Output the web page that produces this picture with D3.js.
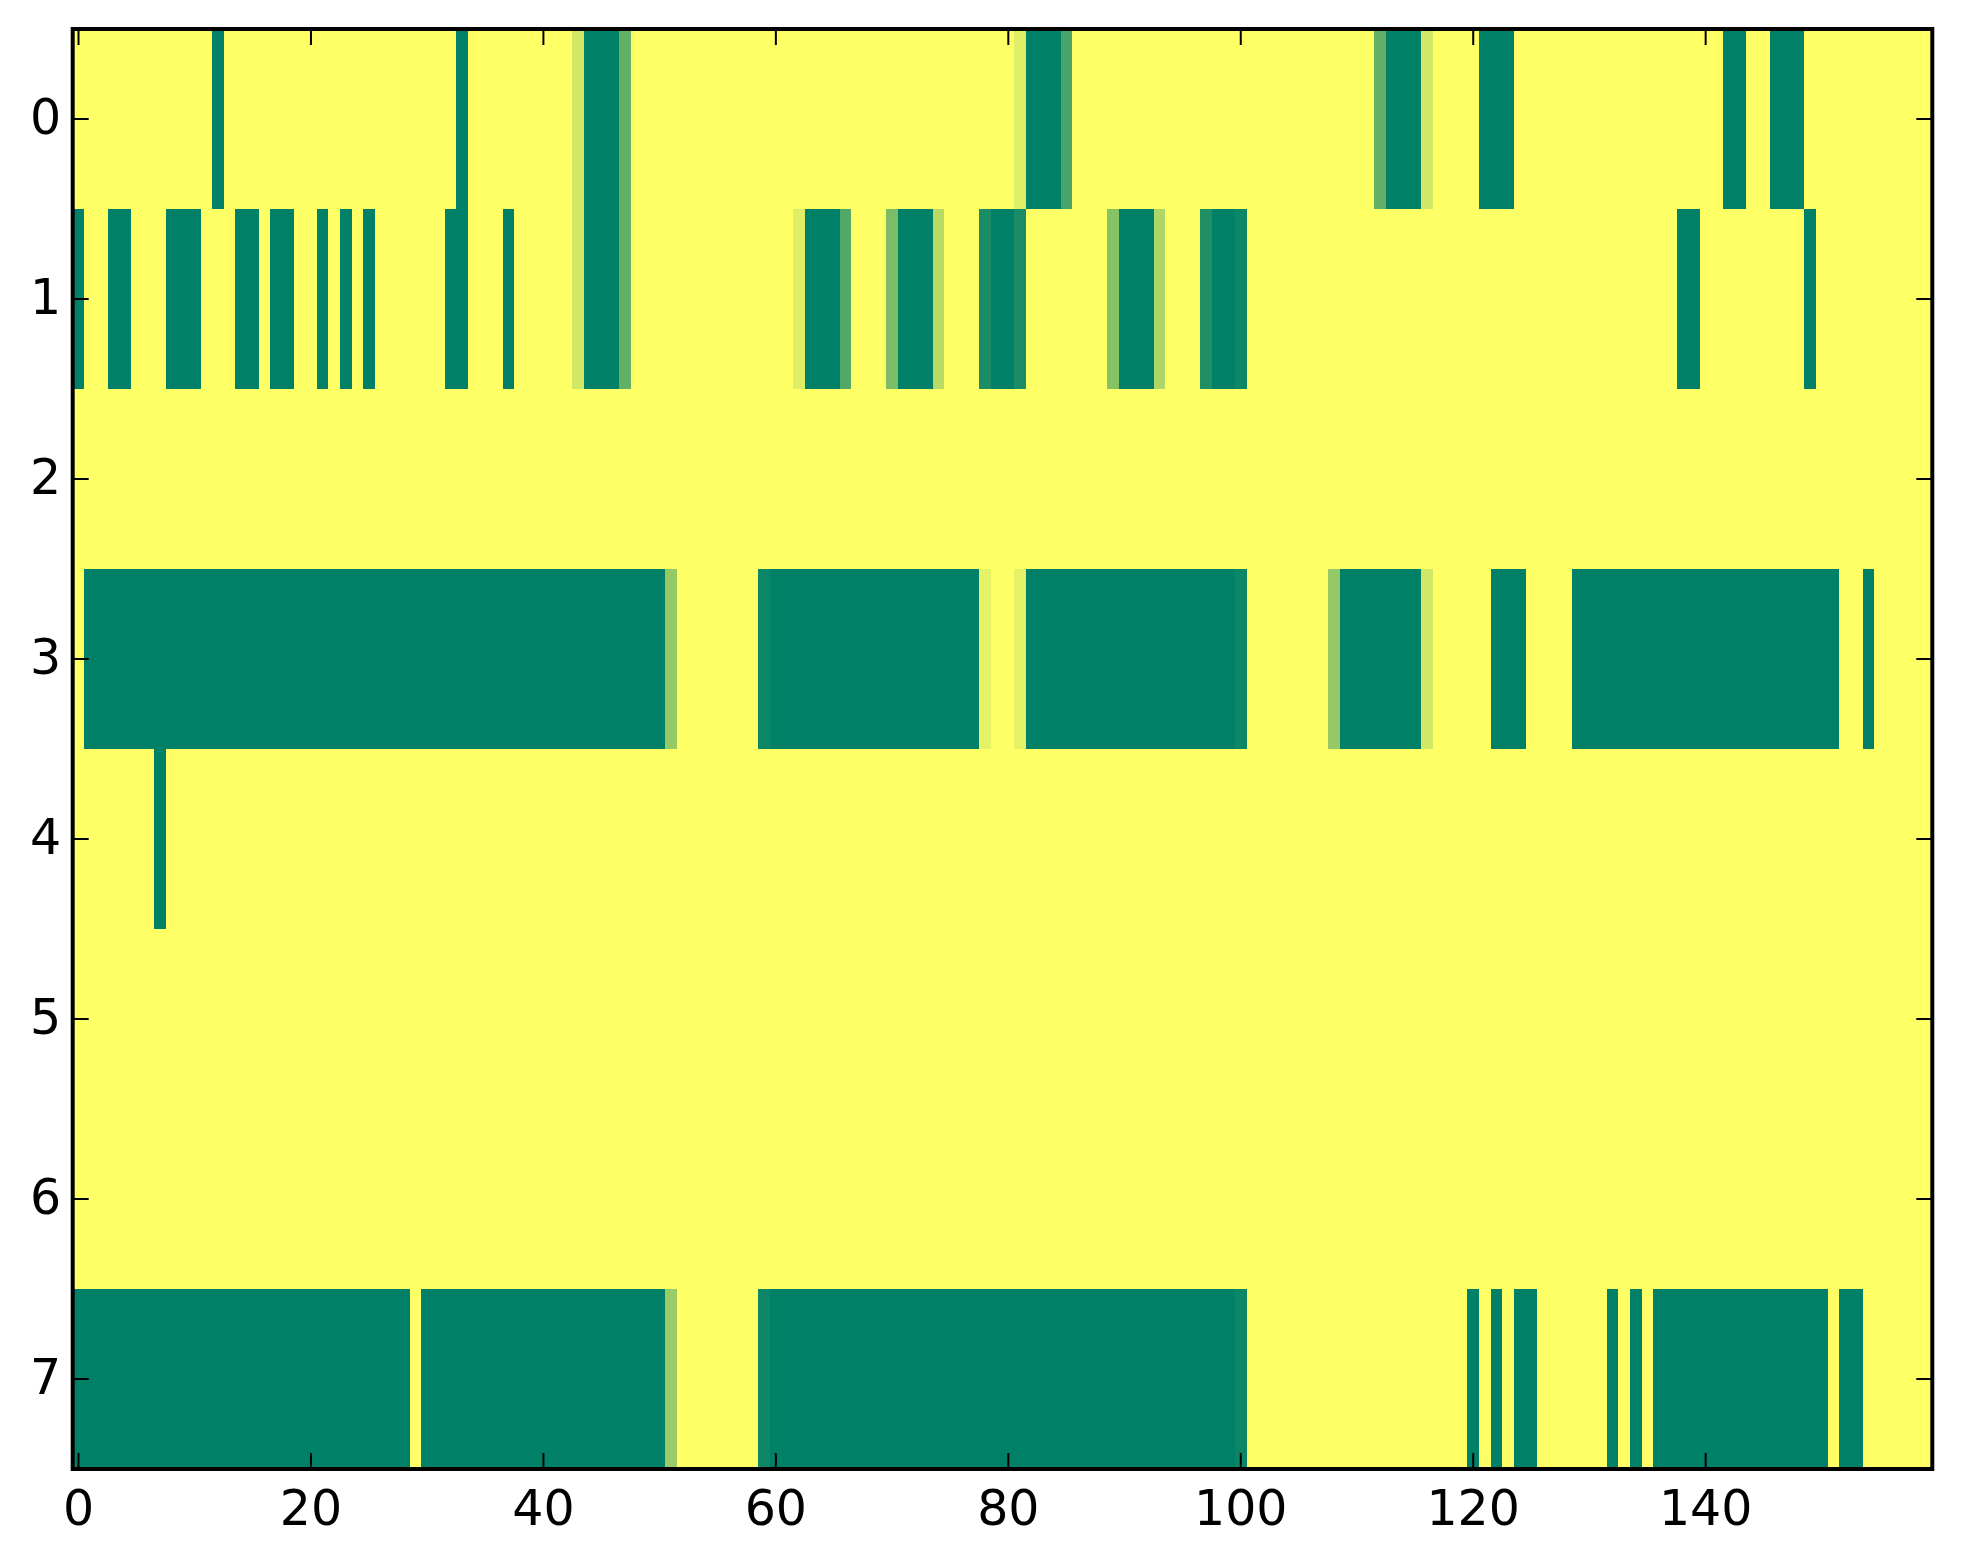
<!DOCTYPE html>
<html>
<head>
<meta charset="utf-8">
<script src="https://cdn.jsdelivr.net/npm/d3@7"></script>
<style>
  body { margin: 0; background: #fff; }
  svg text { font-family: "DejaVu Sans", sans-serif; font-size: 49px; fill: #000; }
</style>
</head>
<body>
<div id="chart"></div>
<script>
// grid size
const nCols = 160;
const rowLabels = [0, 1, 2, 3, 4, 5, 6, 7];
const xTicks = [0, 20, 40, 60, 80, 100, 120, 140];

// non-yellow cells per row as [firstCol, lastCol, value]; every other cell is 1 (yellow)
const row0 = [[12,12,0],[33,33,0],[43,43,0.82],[44,46,0],[47,47,0.38],[81,81,0.88],[82,84,0],
  [85,85,0.28],[112,112,0.38],[113,115,0],[116,116,0.82],[121,123,0],[142,143,0],[146,148,0]];
const row1 = [[0,0,0],[3,4,0],[8,10,0],[14,15,0],[17,18,0],[21,21,0],[23,23,0],[25,25,0],
  [32,33,0],[37,37,0],[43,43,0.82],[44,46,0],[47,47,0.38],[62,62,0.87],[63,65,0],[66,66,0.32],
  [70,70,0.48],[71,73,0],[74,74,0.72],[78,78,0.1],[79,80,0],[81,81,0.1],[89,89,0.52],[90,92,0],
  [93,93,0.68],[97,97,0.12],[98,99,0],[100,100,0.05],[138,139,0],[149,149,0]];
const row2 = [];
const row3 = [[1,50,0],[51,51,0.58],[59,59,0.05],[60,77,0],[78,78,0.9],[81,81,0.9],[82,99,0],
  [100,100,0.05],[108,108,0.58],[109,115,0],[116,116,0.82],[122,124,0],[129,151,0],[154,154,0]];
const row4 = [[7,7,0]];
const row5 = [];
const row6 = [];
const row7 = [[0,28,0],[30,50,0],[51,51,0.6],[59,59,0.06],[60,99,0],[100,100,0.05],[120,120,0],
  [122,122,0],[124,125,0],[132,132,0],[134,134,0],[136,150,0],[152,153,0]];

const rows = [row0, row1, row2, row3, row4, row5, row6, row7];

// expand runs into one cell per column
const cells = [];
rows.forEach((runs, r) => {
  const vals = new Array(nCols).fill(1);
  runs.forEach(([a, b, v]) => { for (let c = a; c <= b; c++) vals[c] = v; });
  vals.forEach((v, c) => cells.push({row: r, col: c, value: v}));
});

const width = 1963, height = 1564;
const margin = {left: 72.7, right: 1963 - 1932.3, top: 29, bottom: 1564 - 1469};

const svg = d3.select('#chart').append('svg')
    .attr('width', width)
    .attr('height', height);

const x = d3.scaleLinear().domain([-0.5, nCols - 0.5]).range([margin.left, width - margin.right]);
const y = d3.scaleLinear().domain([-0.5, rowLabels.length - 0.5]).range([margin.top, height - margin.bottom]);

// matplotlib "summer": r = v, g = 0.5 + 0.5v, b = 0.4
const summer = v => d3.rgb(255 * v, 255 * (0.5 + 0.5 * v), 102).toString();

svg.append('g')
    .attr('shape-rendering', 'crispEdges')
  .selectAll('rect')
    .data(cells)
  .join('rect')
    .attr('x', d => x(d.col - 0.5))
    .attr('y', d => y(d.row - 0.5))
    .attr('width', d => x(d.col + 0.5) - x(d.col - 0.5) + 0.5)
    .attr('height', d => y(d.row + 0.5) - y(d.row - 0.5) + 0.5)
    .attr('fill', d => summer(d.value));

// inward ticks on all four sides
const tickLen = 16;
const [x0, x1] = x.range();
const [y0, y1] = y.range();
const ticks = svg.append('g').attr('stroke', '#000').attr('stroke-width', 2);

ticks.selectAll('.xb').data(xTicks).join('line')
    .attr('x1', d => x(d)).attr('x2', d => x(d))
    .attr('y1', y1).attr('y2', y1 - tickLen);
ticks.selectAll('.xt').data(xTicks).join('line')
    .attr('x1', d => x(d)).attr('x2', d => x(d))
    .attr('y1', y0).attr('y2', y0 + tickLen);
ticks.selectAll('.yl').data(rowLabels).join('line')
    .attr('y1', d => y(d)).attr('y2', d => y(d))
    .attr('x1', x0).attr('x2', x0 + tickLen);
ticks.selectAll('.yr').data(rowLabels).join('line')
    .attr('y1', d => y(d)).attr('y2', d => y(d))
    .attr('x1', x1).attr('x2', x1 - tickLen);

// frame
svg.append('rect')
    .attr('x', x0).attr('y', y0)
    .attr('width', x1 - x0).attr('height', y1 - y0)
    .attr('fill', 'none')
    .attr('stroke', '#000')
    .attr('stroke-width', 4);

// tick labels
svg.append('g').selectAll('text').data(xTicks).join('text')
    .attr('x', d => x(d))
    .attr('y', y1 + 56)
    .attr('text-anchor', 'middle')
    .text(d => d);

svg.append('g').selectAll('text').data(rowLabels).join('text')
    .attr('x', x0 - 11.5)
    .attr('y', d => y(d) + 15)
    .attr('text-anchor', 'end')
    .text(d => d);
</script>
</body>
</html>
